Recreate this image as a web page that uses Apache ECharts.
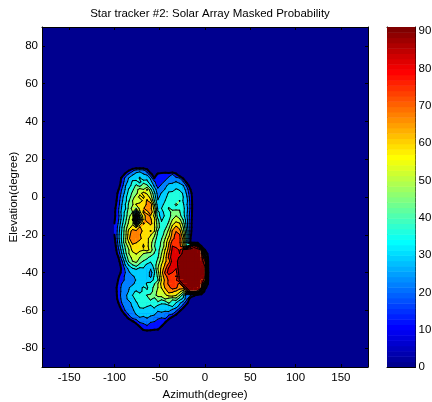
<!DOCTYPE html>
<html><head><meta charset="utf-8">
<style>html,body{margin:0;padding:0;background:#fff}#c{width:432px;height:402px}</style>
<script src="https://cdn.jsdelivr.net/npm/echarts@6/dist/echarts.min.js"></script>
</head><body><div id="c"></div>
<script>
const azimuths=[-100,-96,-92,-88,-84,-80,-76,-72,-68,-64,-60,-56,-52,-48,-44,-40,-36,-32,-28,-24,-20,-16,-12,-8,-4,0,4];
const elevations=[16,14,12,10,8,6,4,2,0,-2,-4,-6,-8,-10,-12,-14,-16,-18,-20,-22,-24,-26,-28,-30,-32,-34,-36,-38,-40,-42,-44,-46,-48,-50,-52,-54,-56,-58,-60,-62,-64,-66,-68,-70,-72,-74];
// each row lists azimuths left to right; columns past the end of a row read 0
const probability=[
[0],
[0,0,0,0,10,18,24,25,24,15],
[0,0,0,14,22,26,30,32,28,26,14,2,13,16,18,16,20,13],
[0,0,12,22,28,33,30,36,29,33,26,10,14,18,16,22,24,22,20,8],
[0,0,14,24,30,36,38,33,40,37,30,22,14,17,22,26,25,28,24,21,6],
[0,4,16,27,32,38,44,40,47,44,36,26,16,22,26,29,32,30,33,28,18,2],
[0,8,20,28,36,41,47,53,50,58,44,32,22,24,28,33,30,36,34,31,24,10],
[0,12,22,30,38,44,48,55,60,56,50,37,24,28,31,36,39,35,38,34,26,14],
[0,14,24,33,39,47,53,60,56,63,54,40,26,30,33,38,36,41,37,35,28,16],
[3,15,26,32,42,50,55,52,60,66,60,43,28,31,35,36,42,38,43,34,30,17],
[5,16,27,35,44,49,58,62,59,67,70,50,30,33,37,41,38,44,40,36,28,18],
[7,18,28,34,45,53,50,60,64,70,67,55,33,35,38,43,41,39,42,37,30,18],
[8,18,30,37,47,50,20,56,66,62,70,58,36,33,37,41,44,47,43,37,29,17],
[8,17,29,38,48,55,0,45,62,68,64,56,38,32,36,39,46,50,45,38,28,16],
[9,18,30,40,50,58,0,30,60,70,66,60,44,34,38,41,50,54,52,42,30,15],
[10,20,32,42,52,56,15,50,66,62,68,58,46,36,37,44,55,60,58,46,30,14],
[11,22,34,46,55,60,57,66,60,63,60,59,47,36,40,48,60,67,62,50,31,14],
[11,23,35,47,60,68,66,70,62,60,66,58,42,37,44,52,66,72,68,53,34,13],
[10,24,36,47,62,70,68,66,60,63,58,52,40,38,47,55,68,75,73,57,36,12],
[8,24,36,48,64,70,66,68,60,59,55,48,38,42,50,60,70,76,74,62,36,10],
[6,22,35,49,58,68,66,61,58,60,53,44,38,44,53,64,76,78,74,60,34,9],
[4,20,33,44,54,62,59,60,57,60,52,43,38,45,53,66,80,76,75,62,40,70,85,70,10],
[2,17,30,42,50,60,62,59,58,61,54,44,40,47,58,68,82,86,78,92,98,98,98,98,88,10],
[0,14,27,40,50,55,58,55,50,47,48,42,40,50,60,72,84,85,80,96,98,98,98,98,96,30],
[0,8,24,36,47,52,54,50,47,44,40,38,42,52,62,74,86,84,92,98,98,98,98,98,98,60],
[0,5,18,32,44,50,52,46,42,40,36,37,45,54,64,68,84,86,96,98,98,98,98,98,98,80],
[0,3,14,28,36,42,46,40,38,33,32,38,48,58,66,76,86,84,98,98,98,98,98,98,98,88],
[0,0,12,22,30,34,36,33,34,30,28,36,50,60,70,82,86,80,98,98,98,98,98,98,98,92],
[0,3,13,20,26,32,30,33,30,34,24,34,47,62,74,84,80,76,96,98,98,98,98,98,98,93,2],
[0,8,15,22,24,26,30,28,33,30,26,36,44,60,70,76,78,72,94,98,98,98,98,98,98,91],
[0,10,16,22,22,25,28,31,29,33,31,37,42,58,67,74,76,78,92,98,98,98,98,98,98,85],
[2,12,20,23,22,26,30,34,31,36,38,42,50,60,68,74,78,76,70,94,98,98,98,98,97,50],
[4,14,22,24,27,31,29,33,36,34,40,44,50,58,66,70,76,74,68,70,94,98,98,98,92,15],
[3,14,22,24,28,33,36,31,38,36,39,46,52,54,60,68,66,64,60,52,62,92,93,88,40,2],
[2,14,23,26,30,35,39,41,38,43,44,48,52,54,56,60,62,58,50,38,20,20,12],
[0,13,22,26,29,32,37,42,37,40,44,40,46,44,50,47,44,47,38,33,22,3],
[0,9,20,25,26,29,34,38,41,36,39,35,41,37,36,44,38,35,29,24,13],
[0,4,16,24,25,28,32,36,39,35,33,37,32,30,33,30,35,30,25,14,2],
[0,0,10,21,25,26,31,33,30,34,30,32,28,31,28,30,25,23,13,3],
[0,0,3,12,22,24,28,30,33,29,31,28,26,24,26,22,20,12],
[0,0,0,3,14,22,24,27,24,28,24,26,22,20,22,14,6],
[0,0,0,0,0,8,15,22,24,22,21,20,16,16,12,2],
[0,0,0,0,0,0,5,13,16,20,16,15,14,12,3],
[0,0,0,0,0,0,0,4,12,14,13,12,11,2],
[0,0,0,0,0,0,0,0,2,3,3],
[0]
];
const contourLevels=[10,20,27.5,35,42.5,50,57.5,65,72.5,80,90];
const xTicks=[-150,-100,-50,0,50,100,150];
const yTicks=[-80,-60,-40,-20,0,20,40,60,80];
const colorbarTicks=[0,10,20,30,40,50,60,70,80,90];
const colorbarStops=[0,1.42,2.85,4.27,5.69,7.12,8.54,9.97,11.39,12.81,14.24,15.66,17.08,18.51,19.93,21.36,22.78,24.2,25.63,27.05,28.47,29.9,31.32,32.74,34.17,35.59,37.02,38.44,39.86,41.29,42.71,44.13,45.56,46.98,48.41,49.83,51.25,52.68,54.1,55.52,56.95,58.37,59.8,61.22,62.64,64.07,65.49,66.91,68.34,69.76,71.18,72.61,74.03,75.46,76.88,78.3,79.73,81.15,82.57,84,85.42,86.85,88.27,89.69,91.1];
const colorMax=91.1;

function jet(v){
  const t=Math.max(0,Math.min(1,v/colorMax));
  const idx=Math.min(63,Math.floor(t*64));
  const x=(idx+1)/64;
  const c=f=>Math.round(255*Math.max(0,Math.min(1,f)));
  const r=1.5-Math.abs(4*x-3), g=1.5-Math.abs(4*x-2), b=1.5-Math.abs(4*x-1);
  return 'rgb('+c(r)+','+c(g)+','+c(b)+')';
}
function cross(p,q,L){const t=(L-p[2])/(q[2]-p[2]);return [p[0]+(q[0]-p[0])*t,p[1]+(q[1]-p[1])*t,L];}
function clipQuad(q,L){
  const out=[],segs=[];
  for(let i=0;i<4;i++){
    const a=q[i],b=q[(i+1)%4];
    const ia=a[2]>=L,ib=b[2]>=L;
    if(ia)out.push(a);
    if(ia!==ib){const p=cross(a,b,L);out.push(p);segs.push(p);}
  }
  return {poly:out,segs};
}
const cells=[];
for(let j=0;j<elevations.length-1;j++)for(let i=0;i<azimuths.length-1;i++)cells.push([azimuths[i],elevations[j],i,j]);
function quad(api){
  const i=api.value(2),j=api.value(3);
  return [[i,j],[i+1,j],[i+1,j+1],[i,j+1]].map(([a,b])=>[azimuths[a],elevations[b],probability[b][a]??0]);
}
function renderFill(params,api){
  const q=quad(api),children=[];
  const lo=Math.min(q[0][2],q[1][2],q[2][2],q[3][2]);
  contourLevels.forEach((L,n)=>{
    const next=contourLevels[n+1];
    if(next!==undefined&&lo>=next)return;
    const {poly}=clipQuad(q,L);
    if(poly.length<3)return;
    const col=jet(L+2);
    children.push({type:'polygon',shape:{points:poly.map(p=>api.coord([p[0],p[1]]))},style:{fill:col,stroke:col,lineWidth:1}});
  });
  return {type:'group',children};
}
function renderLines(params,api){
  const q=quad(api),children=[];
  contourLevels.forEach(L=>{
    const {segs}=clipQuad(q,L);
    const w=L===contourLevels[0]?2:1;
    for(let k=0;k+1<segs.length;k+=2){
      const a=api.coord(segs[k]),b=api.coord(segs[k+1]);
      children.push({type:'line',shape:{x1:a[0],y1:a[1],x2:b[0],y2:b[1]},style:{stroke:'#000',lineWidth:w,lineCap:'round'}});
    }
  });
  return {type:'group',children};
}
const font={fontFamily:'Liberation Sans, Arial, sans-serif',color:'#000',fontSize:11.5};
const line={show:true,onZero:false,lineStyle:{color:'#000',width:1}};
const chart=echarts.init(document.getElementById('c'),null,{renderer:'canvas'});
const barData=colorbarStops.slice(0,-1).map((v,k)=>[v,colorbarStops[k+1]]);
chart.setOption({
  animation:false,backgroundColor:'#fff',
  title:{text:'Star tracker #2: Solar Array Masked Probability',left:205,top:3,textAlign:'center',textStyle:{...font,fontWeight:'normal',fontSize:11.5}},
  grid:[
    {left:42,right:64,top:27,bottom:35,show:true,backgroundColor:'rgb(0,0,143)',borderWidth:0,outerBoundsMode:'none'},
    {left:387,right:16.5,top:27,bottom:35,outerBoundsMode:'none'}
  ],
  xAxis:[
    {gridIndex:0,type:'value',min:-180,max:180,position:'bottom',name:'Azimuth(degree)',nameLocation:'middle',nameGap:22,nameMoveOverlap:false,nameTextStyle:font,axisLine:line,splitLine:{show:false},
     axisTick:{inside:true,length:3,customValues:xTicks,lineStyle:{color:'#000'}},axisLabel:{...font,margin:5,customValues:xTicks,formatter:v=>String(v)}},
    {gridIndex:0,type:'value',min:-180,max:180,position:'top',axisLine:line,splitLine:{show:false},axisLabel:{show:false},axisTick:{inside:true,length:3,customValues:xTicks,lineStyle:{color:'#000'}}},
    {gridIndex:1,type:'value',min:0,max:1,position:'bottom',axisLine:line,axisTick:{show:false},axisLabel:{show:false},splitLine:{show:false}},
    {gridIndex:1,type:'value',min:0,max:1,position:'top',axisLine:line,axisTick:{show:false},axisLabel:{show:false},splitLine:{show:false}}
  ],
  yAxis:[
    {gridIndex:0,type:'value',min:-90,max:90,position:'left',name:'Elevation(degree)',nameLocation:'middle',nameGap:22,nameMoveOverlap:false,nameTextStyle:font,axisLine:line,splitLine:{show:false},
     axisTick:{inside:true,length:3,customValues:yTicks,lineStyle:{color:'#000'}},axisLabel:{...font,margin:4,customValues:yTicks,formatter:v=>String(v)}},
    {gridIndex:0,type:'value',min:-90,max:90,position:'right',axisLine:line,splitLine:{show:false},axisLabel:{show:false},axisTick:{inside:true,length:3,customValues:yTicks,lineStyle:{color:'#000'}}},
    {gridIndex:1,type:'value',min:0,max:colorMax,position:'right',axisLine:line,splitLine:{show:false},
     axisTick:{inside:true,length:3,customValues:colorbarTicks,lineStyle:{color:'#000'}},axisLabel:{...font,margin:3,customValues:colorbarTicks,formatter:v=>String(v)}},
    {gridIndex:1,type:'value',min:0,max:colorMax,position:'left',axisLine:line,splitLine:{show:false},axisLabel:{show:false},axisTick:{inside:true,length:3,customValues:colorbarTicks,lineStyle:{color:'#000'}}}
  ],
  series:[
    {type:'custom',xAxisIndex:0,yAxisIndex:0,data:cells,renderItem:renderFill,clip:true,silent:true,z:1},
    {type:'custom',xAxisIndex:0,yAxisIndex:0,data:cells,renderItem:renderLines,clip:true,silent:true,z:2},
    {type:'custom',xAxisIndex:2,yAxisIndex:2,data:barData,silent:true,z:1,clip:true,
     renderItem:(params,api)=>{
       const a=api.coord([0,api.value(0)]),b=api.coord([1,api.value(1)]);
       return {type:'rect',shape:{x:a[0],y:b[1],width:b[0]-a[0],height:a[1]-b[1]+0.5},style:{fill:jet((api.value(0)+api.value(1))/2)}};
     }}
  ]
});
</script></body></html>
